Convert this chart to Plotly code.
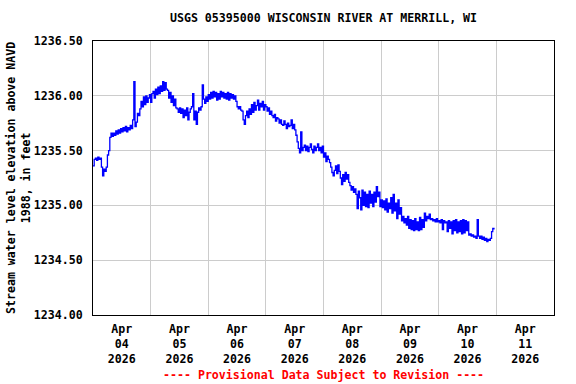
import pandas as pd
import plotly.graph_objects as go

title_text = "USGS 05395000 WISCONSIN RIVER AT MERRILL, WI"
y_title = "Stream water level elevation above NAVD<br>1988, in feet"
footer = "---- Provisional Data Subject to Revision ----"

start_time = "2026-04-04 00:00"
interval = "30min"

day_apr04 = [
    1235.36, 1235.42, 1235.43, 1235.41, 1235.44, 1235.42, 1235.43, 1235.35, 1235.27, 1235.33, 1235.31, 1235.35,
    1235.46, 1235.50, 1235.62, 1235.66, 1235.63, 1235.66, 1235.64, 1235.68, 1235.65, 1235.69, 1235.66, 1235.70,
    1235.67, 1235.71, 1235.68, 1235.72, 1235.67, 1235.71, 1235.69, 1235.73, 1235.70, 1235.78, 1236.13, 1235.72,
    1235.76, 1235.84, 1235.82, 1235.88, 1235.95, 1235.90, 1235.99, 1235.92, 1236.00, 1235.94, 1235.98, 1236.01,
]
day_apr05 = [
    1235.94, 1236.02, 1236.04, 1235.98, 1236.06, 1236.01, 1236.08, 1236.02, 1236.09, 1236.04, 1236.13, 1236.05,
    1236.12, 1236.06, 1236.05, 1235.98, 1236.03, 1235.94, 1236.00, 1235.91, 1235.97, 1235.89, 1235.88, 1235.85,
    1235.89, 1235.84, 1235.88, 1235.80, 1235.87, 1235.82, 1235.89, 1235.78, 1235.85, 1235.88, 1235.90, 1236.02,
    1235.78, 1235.86, 1235.74, 1235.85, 1235.89, 1235.87, 1235.90, 1236.10, 1235.97, 1235.93, 1235.99, 1235.95,
]
day_apr06 = [
    1236.01, 1235.97, 1236.03, 1235.98, 1236.04, 1235.99, 1236.03, 1235.96, 1236.02, 1235.97, 1236.04, 1235.99,
    1236.03, 1235.98, 1236.02, 1235.97, 1236.03, 1235.96, 1236.02, 1235.98, 1236.01, 1235.97, 1236.00, 1235.95,
    1235.90, 1235.88, 1235.90, 1235.87, 1235.86, 1235.78, 1235.74, 1235.82, 1235.86, 1235.80, 1235.88, 1235.83,
    1235.92, 1235.85, 1235.94, 1235.87, 1235.91, 1235.96, 1235.87, 1235.93, 1235.90, 1235.95, 1235.87, 1235.92,
]
day_apr07 = [
    1235.90, 1235.86, 1235.89, 1235.83, 1235.86, 1235.82, 1235.80, 1235.83, 1235.77, 1235.80, 1235.79, 1235.75,
    1235.78, 1235.74, 1235.73, 1235.77, 1235.74, 1235.70, 1235.75, 1235.72, 1235.73, 1235.78, 1235.70, 1235.74,
    1235.69, 1235.64, 1235.58, 1235.52, 1235.48, 1235.67, 1235.50, 1235.53, 1235.55, 1235.50, 1235.54, 1235.49,
    1235.53, 1235.56, 1235.51, 1235.48, 1235.54, 1235.50, 1235.53, 1235.56, 1235.50, 1235.53, 1235.48, 1235.54,
]
day_apr08 = [
    1235.44, 1235.48, 1235.40, 1235.45, 1235.42, 1235.39, 1235.35, 1235.30, 1235.27, 1235.32, 1235.36, 1235.29,
    1235.37, 1235.31, 1235.25, 1235.19, 1235.28, 1235.22, 1235.30, 1235.24, 1235.28, 1235.21, 1235.18, 1235.14,
    1235.17, 1235.12, 1235.15, 1235.10, 1234.97, 1235.13, 1235.07, 1234.96, 1235.14, 1235.00, 1235.12, 1234.99,
    1235.10, 1234.98, 1235.13, 1235.02, 1235.10, 1234.99, 1235.12, 1235.03, 1235.17, 1235.08, 1235.12, 1234.99,
]
day_apr09 = [
    1235.05, 1234.98, 1235.04, 1234.96, 1235.06, 1234.94, 1235.02, 1234.97, 1235.07, 1234.93, 1235.10, 1234.95,
    1235.02, 1234.88, 1235.05, 1234.92, 1234.98, 1234.86, 1234.90, 1234.84, 1234.88, 1234.82, 1234.90, 1234.79,
    1234.87, 1234.78, 1234.86, 1234.77, 1234.88, 1234.78, 1234.85, 1234.77, 1234.89, 1234.78, 1234.87, 1234.80,
    1234.93, 1234.86, 1234.90, 1234.88, 1234.92, 1234.87, 1234.88, 1234.86, 1234.87, 1234.85, 1234.88, 1234.85,
]
day_apr10 = [
    1234.86, 1234.84, 1234.87, 1234.78, 1234.86, 1234.84, 1234.85, 1234.76, 1234.86, 1234.79, 1234.85, 1234.74,
    1234.86, 1234.77, 1234.87, 1234.75, 1234.85, 1234.76, 1234.86, 1234.74, 1234.87, 1234.75, 1234.86, 1234.77,
    1234.85, 1234.73, 1234.74, 1234.72, 1234.73, 1234.71, 1234.72, 1234.70, 1234.87, 1234.72, 1234.70, 1234.72,
    1234.69, 1234.71, 1234.68, 1234.70, 1234.67, 1234.69, 1234.68, 1234.70, 1234.76, 1234.79, 1234.78,
]

elevation = day_apr04 + day_apr05 + day_apr06 + day_apr07 + day_apr08 + day_apr09 + day_apr10
times = pd.date_range(start_time, periods=len(elevation), freq=interval)

x_tick_dates = ["2026-04-04 12:00", "2026-04-05 12:00", "2026-04-06 12:00", "2026-04-07 12:00",
                "2026-04-08 12:00", "2026-04-09 12:00", "2026-04-10 12:00", "2026-04-11 12:00"]
x_tick_labels = ["Apr<br>04<br>2026", "Apr<br>05<br>2026", "Apr<br>06<br>2026", "Apr<br>07<br>2026",
                 "Apr<br>08<br>2026", "Apr<br>09<br>2026", "Apr<br>10<br>2026", "Apr<br>11<br>2026"]
x_range = ["2026-04-04 00:00", "2026-04-12 00:00"]
y_ticks = [1234.0, 1234.5, 1235.0, 1235.5, 1236.0, 1236.5]
y_tick_labels = ["1234.00", "1234.50", "1235.00", "1235.50", "1236.00", "1236.50"]

FONT = "DejaVu Sans Mono"
FS = 11.6

W, H = 576, 384
L, R, T, B = 93, 22, 41, 69
PW, PH = W - L - R, H - T - B

fig = go.Figure()
fig.add_trace(go.Scatter(x=times, y=elevation, mode="lines",
                         line=dict(color="#0000ff", width=1.3, shape="hv"),
                         showlegend=False, hoverinfo="skip"))

fig.update_layout(
    width=W, height=H,
    margin=dict(l=L, r=R, t=T, b=B, autoexpand=False),
    paper_bgcolor="white", plot_bgcolor="white",
    font=dict(family=FONT, size=FS, color="black", weight="bold"),
    title=dict(text=title_text, x=(L + (W - R)) / 2 / W, xanchor="center",
               y=1 - 18 / H, yanchor="middle", yref="container", automargin=False,
               font=dict(family=FONT, size=FS, color="black", weight="bold")),
    xaxis=dict(range=x_range, tickmode="array", tickvals=x_tick_dates, ticktext=x_tick_labels,
               showgrid=False, showline=True, linecolor="black", linewidth=1, mirror=True,
               ticks="", zeroline=False, automargin=False, ticklabelstandoff=3,
               minor=dict(dtick=86400000, tick0="2026-04-04", showgrid=True,
                          gridcolor="#cccccc", gridwidth=1, ticks=""),
               tickfont=dict(family=FONT, size=FS, color="black", weight="bold")),
    yaxis=dict(range=[1234.0, 1236.5], tickmode="array", tickvals=y_ticks, ticktext=y_tick_labels,
               showgrid=True, gridcolor="#cccccc", gridwidth=1,
               showline=True, linecolor="black", linewidth=1, mirror=True,
               ticks="outside", ticklen=7, tickcolor="white", zeroline=False, automargin=False,
               tickfont=dict(family=FONT, size=FS, color="black", weight="bold")),
)

# y-axis title (two lines, rotated)
fig.add_annotation(text=y_title, xref="paper", yref="paper",
                   x=(18 - L) / PW, y=0.5, xanchor="center", yanchor="middle",
                   textangle=-90, showarrow=False,
                   font=dict(family=FONT, size=FS, color="black", weight="bold"))

fig.add_annotation(text=footer, xref="paper", yref="paper", x=0.5, y=(315 - 375) / PH,
                   xanchor="center", yanchor="middle", showarrow=False,
                   font=dict(family=FONT, size=FS, color="red", weight="bold"))

# remove the browser's default 8px page margin so the figure fills the window
fig.write_html("out.html", config={"displayModeBar": False},
               post_script="document.body.style.margin='0';")
